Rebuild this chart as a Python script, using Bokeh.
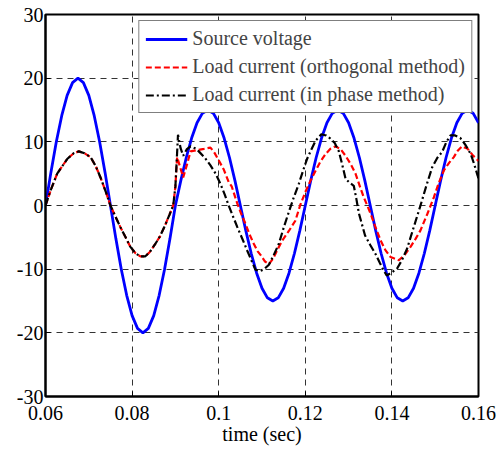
from bokeh.plotting import figure
from bokeh.models import Range1d, FixedTicker, Legend, LegendItem
from bokeh.embed import file_html
from bokeh.resources import INLINE

# ---- data ----
t_volt = [round(0.06 + 0.00125 * i, 5) for i in range(81)]
v_source = [0, 5.2, 10, 14.1, 17.3, 19.3, 20, 19.3, 17.3, 14.1, 10, 5.2, 0,
            -5.2, -10, -14.1, -17.3, -19.3, -20, -19.3, -17.3, -14.1, -10, -5.2, 0,
            3.9, 7.5, 10.6, 13, 14.5, 15, 14.5, 13, 10.6, 7.5, 3.9, 0,
            -3.9, -7.5, -10.6, -13, -14.5, -15, -14.5, -13, -10.6, -7.5, -3.9, 0,
            3.9, 7.5, 10.6, 13, 14.5, 15, 14.5, 13, 10.6, 7.5, 3.9, 0,
            -3.9, -7.5, -10.6, -13, -14.5, -15, -14.5, -13, -10.6, -7.5, -3.9, 0,
            3.9, 7.5, 10.6, 13, 14.5, 15, 14.5, 13]

t_start = [0.0600, 0.0612, 0.0627, 0.0650, 0.0665, 0.0677, 0.0690, 0.0704, 0.0716,
           0.0727, 0.0739, 0.0750, 0.0762, 0.0773, 0.0785, 0.0796, 0.0808, 0.0819,
           0.0830, 0.0841, 0.0852, 0.0864, 0.0875, 0.0886, 0.0895]
i_start = [0, 2.4, 5.0, 7.3, 8.2, 8.5, 8.2, 7.6, 6.2,
           4.4, 2.2, 0, -1.8, -3.4, -5.0, -6.5, -7.5, -8.0,
           -8.0, -7.3, -6.2, -4.9, -3.3, -1.5, 0]

t_orth = t_start + [0.0900, 0.0904, 0.0911, 0.0918, 0.0927, 0.0935, 0.0950, 0.0966, 0.0981,
                    0.0990, 0.1000, 0.1012, 0.1023, 0.1030, 0.1043, 0.1052, 0.1062, 0.1071,
                    0.1081, 0.1090, 0.1097, 0.1107, 0.1116, 0.1126, 0.1136, 0.1147, 0.1162,
                    0.1177, 0.1188, 0.1200, 0.1212, 0.1224, 0.1235, 0.1247, 0.1258, 0.1270,
                    0.1282, 0.1293, 0.1305, 0.1316, 0.1327, 0.1335, 0.1351, 0.1362, 0.1374,
                    0.1385, 0.1397, 0.1416, 0.1430, 0.1443, 0.1455, 0.1466, 0.1482, 0.1497,
                    0.1508, 0.1520, 0.1532, 0.1543, 0.1552, 0.1562, 0.1575, 0.1588, 0.1600]
i_orth = i_start + [3.0, 7.6, 6.0, 4.4, 6.5, 8.5, 8.7, 8.9, 9.1,
                    8.3, 7.1, 5.6, 3.7, 3.0, 0.3, -1.3, -2.9, -4.5,
                    -6.0, -7.2, -7.8, -8.8, -9.2, -8.3, -6.9, -5.5, -4.0,
                    -2.4, 0, 2.1, 3.9, 5.5, 6.9, 8.1, 8.9, 9.3,
                    8.8, 7.8, 6.5, 5.0, 2.8, 1.3, -1.3, -3.4, -5.5,
                    -7.0, -8.1, -8.6, -7.7, -6.5, -5.2, -3.9, -1.3, 1.3,
                    3.5, 5.5, 6.7, 7.6, 8.6, 9.3, 8.9, 7.8, 7.0]

t_inph = t_start + [0.0900, 0.0903, 0.0906, 0.0912, 0.0918, 0.0926, 0.0935, 0.0945, 0.0954,
                    0.0968, 0.0981, 0.0993, 0.1004, 0.1014, 0.1023, 0.1033, 0.1043, 0.1055,
                    0.1066, 0.1076, 0.1085, 0.1095, 0.1105, 0.1116, 0.1127, 0.1139, 0.1150,
                    0.1162, 0.1173, 0.1185, 0.1195, 0.1204, 0.1214, 0.1224, 0.1237, 0.1248,
                    0.1258, 0.1268, 0.1277, 0.1285, 0.1293, 0.1302, 0.1312, 0.1318, 0.1324,
                    0.1338, 0.1350, 0.1362, 0.1372, 0.1381, 0.1388, 0.1400, 0.1412, 0.1423,
                    0.1435, 0.1450, 0.1466, 0.1480, 0.1493, 0.1505, 0.1516, 0.1526, 0.1535,
                    0.1546, 0.1558, 0.1570, 0.1582, 0.1590, 0.1598, 0.1600]
i_inph = i_start + [3.0, 7.0, 11.1, 9.0, 7.8, 8.8, 9.3, 9.0, 8.5,
                    7.5, 6.3, 5.0, 3.4, 1.7, 0, -1.7, -3.4, -5.3,
                    -7.1, -8.7, -10.1, -10.3, -10.0, -9.3, -7.8, -6.0, -3.5,
                    -1.0, 1.2, 3.4, 5.5, 7.3, 8.8, 10.2, 11.2, 11.0,
                    10.5, 9.8, 8.6, 6.5, 4.2, 3.6, 3.1, 1.0, -1.3,
                    -4.7, -6.2, -7.6, -9.0, -10.2, -11.0, -10.5, -9.9, -8.6,
                    -6.8, -3.5, 0, 3.2, 6.0, 7.5, 8.4, 10.0, 11.0,
                    11.0, 10.6, 9.5, 8.1, 6.5, 4.7, 4.2]

x_ticks = [0.06, 0.08, 0.1, 0.12, 0.14, 0.16]
x_tick_labels = ["0.06", "0.08", "0.1", "0.12", "0.14", "0.16"]
y_ticks = [-30, -20, -10, 0, 10, 20, 30]
y_tick_labels = ["-30", "-20", "-10", "0", "10", "20", "30"]

labels = ["Source voltage", "Load current (orthogonal method)", "Load current (in phase method)"]

FONT = "Liberation Serif"

p = figure(width=500, height=450, output_backend="svg", toolbar_location=None,
           x_range=Range1d(0.06, 0.16), y_range=Range1d(-30, 30),
           min_border_left=45, min_border_right=22, min_border_top=14, min_border_bottom=54)
p.background_fill_color = "white"
p.border_fill_color = "white"
p.outline_line_color = "black"
p.outline_line_width = 2

for ax, ticks, lbls in ((p.xaxis[0], x_ticks, x_tick_labels), (p.yaxis[0], y_ticks, y_tick_labels)):
    ax.ticker = FixedTicker(ticks=ticks)
    ax.major_label_overrides = {t: l for t, l in zip(ticks, lbls)}
    ax.major_label_text_font = FONT
    ax.major_label_text_font_size = "20px"
    ax.major_label_text_color = "black"
    ax.axis_line_color = "black"
    ax.axis_line_width = 2
    ax.major_tick_in = 5
    ax.major_tick_out = 0
    ax.major_tick_line_color = "black"
    ax.minor_tick_line_color = None

p.xaxis.major_label_standoff = 9
p.yaxis.major_label_standoff = 2
p.xaxis.axis_label = "time (sec)"
p.xaxis.axis_label_text_font = FONT
p.xaxis.axis_label_text_font_size = "20px"
p.xaxis.axis_label_text_font_style = "normal"
p.xaxis.axis_label_text_color = "black"
p.xaxis.axis_label_standoff = 0

for g, ticks in ((p.xgrid[0], x_ticks), (p.ygrid[0], y_ticks)):
    g.ticker = FixedTicker(ticks=ticks)
    g.grid_line_color = "#333333"
    g.grid_line_dash = "6 5"
    g.grid_line_width = 1

r1 = p.line(t_volt, v_source, line_color="#0000ff", line_width=2.8)
r2 = p.line(t_orth, i_orth, line_color="#ff0000", line_width=2.2, line_dash="6 3")
r3 = p.line(t_inph, i_inph, line_color="black", line_width=2.2, line_dash="8 3 2 3")

legend = Legend(items=[LegendItem(label=labels[0], renderers=[r1]),
                       LegendItem(label=labels[1], renderers=[r2]),
                       LegendItem(label=labels[2], renderers=[r3])],
                location="top_right")
legend.margin = 6
legend.padding = 6
legend.spacing = 5
legend.glyph_width = 42
legend.glyph_height = 20
legend.label_height = 20
legend.label_standoff = 5
legend.label_text_font = FONT
legend.label_text_font_size = "20px"
legend.border_line_color = "black"
legend.border_line_width = 1.5
legend.background_fill_color = "white"
legend.background_fill_alpha = 1
p.add_layout(legend, "center")

open("out.html", "w").write(file_html(p, INLINE))
